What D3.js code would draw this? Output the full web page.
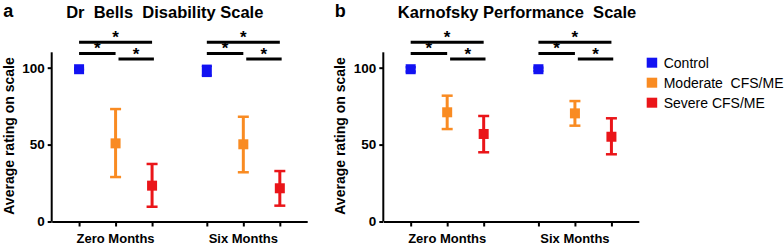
<!DOCTYPE html>
<html>
<head>
<meta charset="utf-8">
<script src="https://cdn.jsdelivr.net/npm/d3@7"></script>
<style>
  body { margin: 0; background: #fff; }
  svg { display: block; font-family: "Liberation Sans", Arial, sans-serif; }
  .pre { white-space: pre; }
</style>
</head>
<body>
<div id="chart"></div>
<script>
// categories / series
const groups = ["Zero Months", "Six Months"];
const series = ["Control", "Moderate  CFS/ME", "Severe CFS/ME"];
const colors = ["#1212f2", "#f98b22", "#ea1519"];
const yTicks = [0, 50, 100];

// Dr Bells Disability Scale: [group][series]
const bellsMean = [[99, 50.8, 23.3], [98, 50.2, 21.6]];
const bellsLow  = [[98.5, 28.9, 9.6], [94.7, 32, 10.3]];
const bellsHigh = [[99.5, 73.1, 37.4], [101.2, 68.1, 32.8]];

// Karnofsky Performance Scale
const karnMean = [[99, 71, 56.9], [99, 70.3, 55.1]];
const karnLow  = [[97.5, 60.1, 45], [98, 62.3, 43.7]];
const karnHigh = [[100.3, 81.8, 68.6], [100, 78.3, 67.1]];

// significance bars: [from series idx, to series idx, level]
const sigBars = [[0, 2, 116.5], [0, 1, 109.3], [1.08, 2.05, 105.6]];

const W = 784, H = 245;
const plotH = {top: 52.3, bottom: 221.5};
const plotW = 255.5;
const groupStart = [0.75, 4.25];

const svg = d3.select("#chart").append("svg")
    .attr("width", W).attr("height", H);

const yScale = d3.scaleLinear().domain([0, 110]).range([plotH.bottom, plotH.top]);
const xScale = d3.scaleLinear().domain([0, 7]).range([0, plotW]);

function drawPanel(left, letter, title, mean, low, high){
    const g = svg.append("g").attr("transform", "translate(" + left + ",0)");

    // letter + title
    svg.append("text")
        .attr("x", left - 48.5).attr("y", 16.7)
        .attr("font-size", 18).attr("font-weight", "bold")
        .text(letter);
    svg.append("text").attr("class", "pre")
        .attr("x", left + 14.5).attr("y", 17.5)
        .attr("font-size", 16.5).attr("font-weight", "bold")
        .text(title);

    // y axis
    const yAxis = g.append("g")
        .call(d3.axisLeft(yScale).tickValues(yTicks).tickSize(4).tickPadding(3).tickSizeOuter(0));
    yAxis.select(".domain").attr("stroke-width", 2).attr("d", "M0," + yScale(110) + "V" + yScale(0));
    yAxis.selectAll(".tick line").attr("stroke-width", 2);
    yAxis.selectAll("text").attr("font-size", 13.5).attr("font-weight", "bold")
        .attr("font-family", "Liberation Sans, Arial, sans-serif").attr("fill", "#000");

    // x axis
    const tickPos = [];
    groupStart.forEach(s => { for (let i = 0; i < 3; i++) tickPos.push(s + i); });
    const xAxis = g.append("g").attr("transform", "translate(0," + plotH.bottom + ")")
        .call(d3.axisBottom(xScale).tickValues(tickPos).tickSize(5).tickFormat("").tickSizeOuter(0));
    xAxis.select(".domain").attr("stroke-width", 2);
    xAxis.selectAll(".tick line").attr("stroke-width", 2);

    g.selectAll(".groupLabel").data(groups).join("text")
        .attr("class", "groupLabel")
        .attr("x", (d, i) => xScale(groupStart[i] + 1))
        .attr("y", 243)
        .attr("text-anchor", "middle")
        .attr("font-size", 13).attr("font-weight", "bold")
        .text(d => d);

    // y label
    g.append("text")
        .attr("transform", "translate(-38,136) rotate(-90)")
        .attr("text-anchor", "middle")
        .attr("font-size", 14).attr("font-weight", "bold")
        .text("Average rating on scale");

    // significance
    groupStart.forEach(s => {
        sigBars.forEach(b => {
            const x0 = xScale(s + b[0]), x1 = xScale(s + b[1]), y = yScale(b[2]);
            g.append("line").attr("x1", x0).attr("x2", x1).attr("y1", y).attr("y2", y)
                .attr("stroke", "#000").attr("stroke-width", 3);
            g.append("text").attr("x", (x0 + x1) / 2).attr("y", y + 1)
                .attr("text-anchor", "middle").attr("font-size", 17).attr("font-weight", "bold")
                .text("*");
        });
    });

    // points with error bars
    const pts = [];
    groups.forEach((grp, gi) => series.forEach((sr, si) => {
        pts.push({x: groupStart[gi] + si, m: mean[gi][si], lo: low[gi][si], hi: high[gi][si], c: colors[si], cw: si === 0 ? 5 : 5.5});
    }));
    const pg = g.selectAll(".pt").data(pts).join("g").attr("class", "pt");
    pg.append("line")
        .attr("x1", d => xScale(d.x)).attr("x2", d => xScale(d.x))
        .attr("y1", d => yScale(d.lo)).attr("y2", d => yScale(d.hi))
        .attr("stroke", d => d.c).attr("stroke-width", 3);
    ["lo", "hi"].forEach(k => {
        pg.append("line")
            .attr("x1", d => xScale(d.x) - d.cw).attr("x2", d => xScale(d.x) + d.cw)
            .attr("y1", d => yScale(d[k])).attr("y2", d => yScale(d[k]))
            .attr("stroke", d => d.c).attr("stroke-width", 2.5);
    });
    pg.append("rect")
        .attr("x", d => xScale(d.x) - 5).attr("y", d => yScale(d.m) - 5)
        .attr("width", 10).attr("height", 10)
        .attr("fill", d => d.c);
}

drawPanel(51.7, "a", "Dr  Bells  Disability Scale", bellsMean, bellsLow, bellsHigh);
drawPanel(383.3, "b", "Karnofsky Performance  Scale", karnMean, karnLow, karnHigh);

// legend
const leg = svg.append("g").attr("transform", "translate(646.7,57.7)");
const li = leg.selectAll(".li").data(series).join("g").attr("class", "li")
    .attr("transform", (d, i) => "translate(0," + i * 20 + ")");
li.append("rect").attr("width", 10.5).attr("height", 10).attr("fill", (d, i) => colors[i]);
li.append("text").attr("class", "pre").attr("x", 17).attr("y", 10)
    .attr("font-size", 14).text(d => d);
</script>
</body>
</html>
